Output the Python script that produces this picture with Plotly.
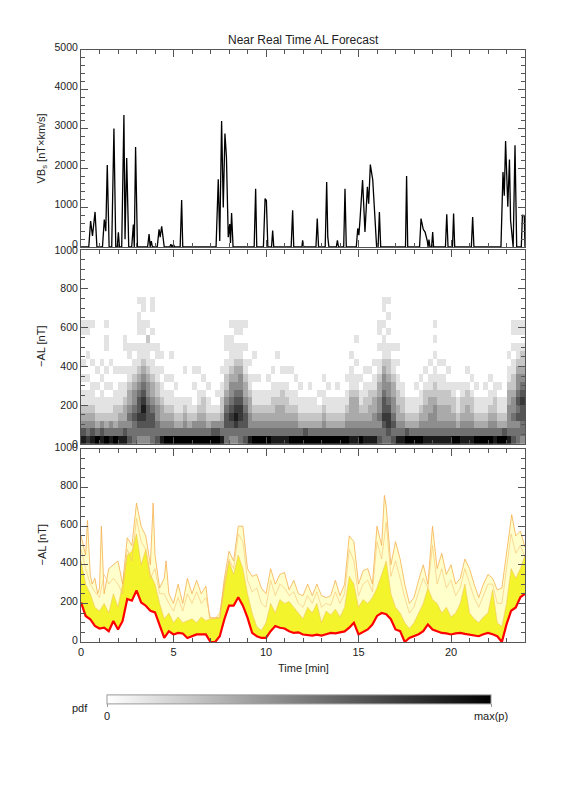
import plotly.graph_objects as go

# ---------------- data ----------------
# Top panel: VBs [nT x km/s] polyline vertices (time in min)
vbs_t = [0, 0.42, 0.52, 0.62, 0.76, 0.86, 1.16, 1.26, 1.34, 1.42, 1.52, 1.66, 1.78, 1.88,
         1.96, 2.02, 2.08, 2.2, 2.32, 2.38, 2.47, 2.58, 2.74, 2.83, 2.88, 2.95, 3.05,
         3.6, 3.68, 3.74, 3.8, 3.86, 4.12, 4.22, 4.28, 4.36, 4.42, 4.5, 4.8, 4.86, 4.92,
         5.0, 5.06, 5.36, 5.44, 5.5, 7.3, 7.42, 7.5, 7.6, 7.69, 7.78, 7.86, 7.96, 8.04,
         8.08, 8.14, 8.22, 9.36, 9.44, 9.5, 9.86, 9.95, 10.02, 10.1, 10.3, 10.36, 10.42,
         11.36, 11.44, 11.5, 11.94, 11.98, 12.04, 12.7, 12.77, 12.84, 13.2, 13.28, 13.34,
         13.4, 13.8, 13.86, 13.92, 14.2, 14.27, 14.34, 14.88, 14.96, 15.02, 15.08, 15.22,
         15.35, 15.48, 15.55, 15.64, 15.77, 15.9, 15.98, 16.06, 16.13, 16.2, 17.54, 17.6,
         17.66, 18.3, 18.38, 18.5, 18.6, 18.72, 18.76, 18.81, 18.86, 18.95, 19.01, 19.06,
         19.7, 19.77, 19.84, 20.08, 20.14, 20.2, 21.1, 21.17, 21.24, 22.7, 22.81, 22.88,
         22.95, 23.07, 23.16, 23.22, 23.28, 23.36, 23.46, 23.55, 23.8, 23.86, 23.96, 24.0]
vbs_v = [0, 0, 660, 280, 890, 0, 0, 695, 400, 2080, 0, 0, 3010, 0,
         0, 370, 0, 0, 3350, 200, 2260, 0, 0, 570, 0, 2540, 0,
         0, 330, 0, 150, 0, 0, 450, 250, 525, 300, 0, 0, 70, 0,
         60, 0, 0, 1190, 0, 0, 1720, 150, 3200, 1000, 2880, 2300, 250, 580,
         100, 860, 0, 0, 1480, 0, 0, 1230, 1180, 0, 0, 420, 0,
         0, 930, 0, 0, 170, 0, 0, 720, 0, 0, 1650, 250,
         0, 0, 170, 0, 0, 1480, 0, 0, 470, 300, 680, 1700,
         380, 1530, 1100, 2090, 1700, 600, 0, 0, 890, 0, 0, 1800,
         0, 0, 720, 450, 380, 150, 0, 190, 0, 0, 380, 0,
         0, 830, 0, 0, 850, 0, 0, 760, 0, 0, 1900, 1300,
         2690, 1020, 2220, 680, 420, 0, 2585, 0, 0, 805, 800, 0]

# Middle panel: pdf levels (0..9), one string per 0.25-min column, bottom (0-40 nT) upward in 40 nT bins
pdf_columns = [
    "8643211010100011", "7543211010010011", "8643211100100001", "9532110101",
    "8642111010100", "9532110101001101", "85421101001", "9532211001",
    "8543211101", "86433211010011", "6545433211011", "5556544321101",
    "4567665432111011101", "4567876543211011011", "4566654432111201", "5566543321101010011",
    "6554432211011", "854332110101", "95432110100", "9543211010010",
    "95321101", "9532110", "9543210001", "9532110",
    "9542100101", "9543211001", "954322101", "95321101",
    "9642100", "96421010", "8543221101", "55665432211011",
    "4567654432111101", "4578765433211011", "5567765443211011", "6566543321101001",
    "85443321101", "9543211010010", "954321101", "95432110",
    "954321101", "8543221101", "854332110001", "8543322101",
    "85432211010", "9543211001", "9543211010", "95321101",
    "9632110", "95321101", "9532110", "95321010",
    "954321101", "95321101", "9532110", "95321101",
    "9532110", "954321101", "8543332111010", "85433321101001",
    "954321101", "8543221101", "8543322101", "854433211010",
    "6545443321101011", "5567665443211101011", "5677654432211010101", "6565443321101",
    "8543322110101", "854322110", "9632110", "9532110",
    "95321101", "954321101", "8543322101", "854433211010",
    "8544432211010101", "854332211010", "85433221101", "8543322101",
    "954322110", "95321101", "854322110", "8543322101",
    "854322101", "95321101", "9532110", "95321101",
    "954321101", "854322110", "95321101", "9632110",
    "854443321101", "6545443221101011", "5546565443211011", "4556676543221011",
]

# Bottom panel
al_t = [i * 0.25 for i in range(97)]
al_low = [205, 135, 118, 83, 70, 74, 56, 109, 65, 109, 223, 214, 267, 205, 188, 162,
          153, 91, 21, 56, 39, 47, 44, 21, 30, 39, 39, 39, 0, 0, 30, 118,
          188, 188, 232, 188, 126, 47, 30, 21, 21, 56, 83, 74, 70, 56, 47, 50,
          39, 35, 33, 38, 33, 40, 47, 45, 51, 55, 74, 100, 39, 50, 65, 90,
          135, 150, 144, 118, 65, 56, 0, 21, 30, 40, 56, 91, 65, 55, 47, 45,
          39, 45, 47, 42, 39, 35, 30, 40, 47, 40, 30, 0, 91, 162, 179, 232, 250]
al_mid = [420, 300, 250, 180, 160, 200, 150, 250, 180, 300, 450, 470, 560, 400, 480, 350,
          300, 200, 120, 150, 100, 130, 100, 110, 120, 100, 130, 110, 120, 120, 150, 300,
          420, 350, 450, 380, 250, 150, 80, 60, 100, 200, 150, 220, 200, 210, 180, 150,
          120, 180, 150, 200, 100, 160, 140, 170, 130, 180, 340, 300, 180, 220, 200, 230,
          280, 350, 420, 250, 180, 150, 100, 70, 100, 150, 200, 280, 220, 200, 150, 180,
          130, 150, 200, 300, 150, 120, 100, 130, 150, 270, 100, 80, 200, 380, 330, 380, 450]
al_q2 = [480, 380, 300, 260, 230, 350, 300, 330, 300, 250, 480, 420, 640, 520, 480, 330,
         380, 250, 250, 200, 160, 230, 160, 250, 200, 260, 200, 230, 125, 125, 125, 280,
         430, 380, 560, 520, 320, 260, 280, 200, 180, 320, 240, 300, 280, 240, 260, 200,
         180, 240, 200, 260, 180, 200, 190, 260, 200, 250, 480, 420, 240, 300, 320, 260,
         520, 430, 620, 340, 420, 330, 230, 150, 180, 260, 330, 280, 500, 300, 380, 280,
         320, 240, 280, 380, 300, 230, 180, 240, 300, 300, 200, 200, 380, 560, 460, 500, 440]
env_t = [0, 0.25, 0.35, 0.5, 0.6, 0.75, 0.9, 1.0, 1.1, 1.25, 1.5, 1.75, 2.0, 2.25, 2.5, 2.75,
         3.0, 3.25, 3.5, 3.75, 3.9, 4.0, 4.25, 4.5, 4.6, 4.75, 5.0, 5.25, 5.5, 5.75, 6.0,
         6.25, 6.5, 6.75, 6.95, 7.5, 7.75, 8.0, 8.25, 8.5, 8.75, 9.0, 9.25, 9.5, 9.75, 10.0,
         10.25, 10.5, 10.75, 11.0, 11.25, 11.5, 11.75, 12.0, 12.25, 12.5, 12.75, 13.0, 13.25,
         13.5, 13.75, 14.0, 14.25, 14.5, 14.75, 15.0, 15.25, 15.5, 15.75, 16.0, 16.25, 16.4,
         16.5, 16.75, 17.0, 17.25, 17.5, 17.75, 18.0, 18.25, 18.5, 18.75, 19.0, 19.25, 19.5,
         19.75, 20.0, 20.25, 20.5, 20.75, 21.0, 21.25, 21.5, 21.75, 22.0, 22.25, 22.5, 22.75,
         23.0, 23.28, 23.5, 23.75, 24.0]
env_v = [550, 450, 630, 350, 300, 330, 250, 280, 600, 250, 380, 400, 420, 300, 540, 500,
         720, 600, 550, 400, 720, 450, 280, 330, 420, 250, 200, 300, 200, 330, 250,
         320, 250, 290, 125, 125, 330, 470, 420, 600, 600, 380, 340, 350, 280, 250,
         380, 300, 350, 360, 270, 320, 250, 240, 300, 240, 300, 240, 230,
         240, 320, 240, 300, 550, 520, 300, 370, 380, 300, 600, 500, 760,
         700, 400, 520, 430, 300, 200, 230, 320, 400, 300, 600, 380, 460,
         350, 400, 300, 330, 430, 380, 300, 230, 300, 350, 330, 270, 280,
         450, 660, 550, 575, 490]

# ---------------- figure ----------------
n_rows = 20
pdf_z = [[int(col[r]) if r < len(col) else 0 for col in pdf_columns] for r in range(n_rows)]

FONT = dict(family="Liberation Sans", size=11, color="#222222")
AXC = "#555555"
XDOM = [81 / 576, 525 / 576]


def ydom(top_px, bot_px):
    return [1 - bot_px / 792, 1 - top_px / 792]


fig = go.Figure()

fig.add_trace(go.Scatter(x=vbs_t, y=vbs_v, mode="lines", line=dict(color="black", width=1.3),
                         xaxis="x", yaxis="y", hoverinfo="skip"))

fig.add_trace(go.Heatmap(
    z=pdf_z, x0=0.125, dx=0.25, y0=20, dy=40, zmin=0, zmax=9,
    colorscale=[[0, "#ffffff"], [1, "#000000"]], xaxis="x2", yaxis="y2", hoverinfo="skip",
    colorbar=dict(orientation="h", x=299 / 576, xanchor="center", y=1 - 709 / 792, yanchor="middle",
                  len=404 / 576, lenmode="fraction", thickness=9, thicknessmode="pixels",
                  outlinewidth=1, outlinecolor="#999999",
                  tickvals=[0, 9], ticktext=["0", "max(p)"], ticks="outside", ticklen=3,
                  tickcolor="#999999", tickfont=FONT),
))

fig.add_trace(go.Scatter(x=al_t, y=al_low, mode="lines", line=dict(color="red", width=0),
                         xaxis="x3", yaxis="y3", hoverinfo="skip"))
fig.add_trace(go.Scatter(x=al_t, y=al_mid, mode="lines", fill="tonexty", fillcolor="#f4f42c",
                         line=dict(color="#f2c040", width=0.6), xaxis="x3", yaxis="y3", hoverinfo="skip"))
fig.add_trace(go.Scatter(x=env_t, y=env_v, mode="lines", fill="tonexty", fillcolor="#ffffcc",
                         line=dict(color="#f5b050", width=0.8), xaxis="x3", yaxis="y3", hoverinfo="skip"))
fig.add_trace(go.Scatter(x=al_t, y=al_q2, mode="lines",
                         line=dict(color="#f7c070", width=0.6), xaxis="x3", yaxis="y3", hoverinfo="skip"))
fig.add_trace(go.Scatter(x=al_t, y=al_low, mode="lines", line=dict(color="#ff0000", width=2.2),
                         xaxis="x3", yaxis="y3", hoverinfo="skip"))

common_x = dict(range=[0, 24], domain=XDOM, showline=True, linecolor=AXC, linewidth=1,
                mirror="allticks", ticks="inside", ticklen=7, tickcolor=AXC, dtick=5, tick0=0,
                minor=dict(dtick=1, ticks="inside", ticklen=4, tickcolor=AXC),
                showgrid=False, zeroline=False, tickfont=FONT)
common_y = dict(showline=True, linecolor=AXC, linewidth=1, mirror="allticks", ticks="inside",
                ticklen=7, tickcolor=AXC, showgrid=False, zeroline=False,
                tickfont=dict(FONT, size=10.5))

fig.update_layout(
    width=576, height=792, margin=dict(l=0, r=0, t=0, b=0, autoexpand=False),
    paper_bgcolor="white", plot_bgcolor="white", showlegend=False, font=FONT,
    xaxis=dict(common_x, anchor="y", showticklabels=False),
    yaxis=dict(common_y, anchor="x", domain=ydom(50, 247), range=[0, 5000], dtick=1000,
               ticklabelshift=-3,
               minor=dict(dtick=200, ticks="inside", ticklen=4, tickcolor=AXC)),
    xaxis2=dict(common_x, anchor="y2", showticklabels=False),
    yaxis2=dict(common_y, anchor="x2", domain=ydom(250, 444), range=[0, 1000], dtick=200,
                ticklabelshift=0,
                minor=dict(dtick=50, ticks="inside", ticklen=4, tickcolor=AXC)),
    xaxis3=dict(common_x, anchor="y3"),
    yaxis3=dict(common_y, anchor="x3", domain=ydom(449, 642), range=[0, 1000], dtick=200,
                ticklabelshift=-2,
                minor=dict(dtick=50, ticks="inside", ticklen=4, tickcolor=AXC)),
)

ann = [
    dict(text="Near Real Time AL Forecast", x=303 / 576, y=1 - 40 / 792, font=dict(FONT, size=12)),
    dict(text="VB<sub>s</sub> [nT×km/s]", x=41 / 576, y=1 - 148.5 / 792, textangle=-90),
    dict(text="−AL [nT]", x=41 / 576, y=1 - 347 / 792, textangle=-90),
    dict(text="−AL [nT]", x=41 / 576, y=1 - 545.5 / 792, textangle=-90),
    dict(text="Time [min]", x=303 / 576, y=1 - 668 / 792),
    dict(text="pdf", x=80 / 576, y=1 - 708 / 792),
]
for a in ann:
    fig.add_annotation(xref="paper", yref="paper", showarrow=False, xanchor="center", yanchor="middle",
                       font=a.pop("font", FONT), **a)

fig.write_html("out.html", config={"displayModeBar": False},
               post_script="document.body.style.margin='0px';")
